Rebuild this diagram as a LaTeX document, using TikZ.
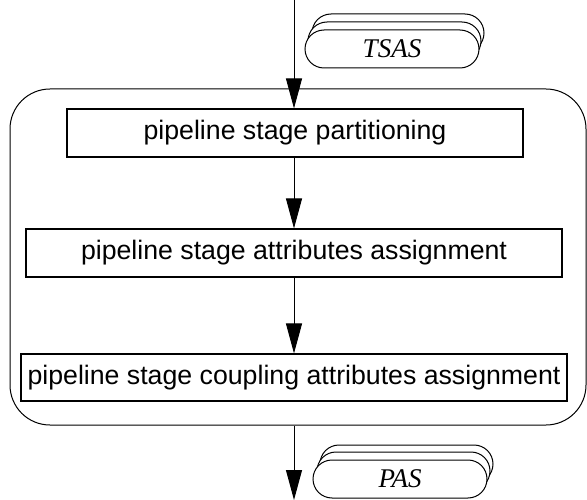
\documentclass[tikz,border=0pt]{standalone}
\usepackage{fontspec}
\setmainfont{Liberation Serif}
\setsansfont{Liberation Sans}
\usetikzlibrary{arrows.meta}
\tikzset{
  stagebox/.style={draw, line width=1.1pt, inner sep=0pt, font=\sffamily\fontsize{26.7}{30}\selectfont},
  flow/.style={line width=1pt, -{Triangle[width=16pt,length=30pt]}},
  store/.style={draw, line width=1pt, fill=white, rounded corners=19pt},
  storelabel/.style={font=\itshape\fontsize{27}{30}\selectfont}
}
\begin{document}
\begin{tikzpicture}[x=1pt,y=-1pt]
\useasboundingbox (0,0) rectangle (587,500);

% enclosing block
\node[draw, line width=1pt, rounded corners=40pt, minimum width=576pt, minimum height=336pt, inner sep=0pt]
  (outer) at (298,257) {};

% processing steps
\node[stagebox, minimum width=456pt, minimum height=48pt] (s1) at (295,133) {pipeline stage partitioning};
\node[stagebox, minimum width=536pt, minimum height=48pt] (s2) at (294,253) {pipeline stage attributes assignment};
\node[stagebox, minimum width=546pt, minimum height=47pt] (s3) at (294,377.5) {pipeline stage coupling attributes assignment};

% input and output stores
\draw[store] (312,14) rectangle (484,52);
\draw[store] (308,22) rectangle (481,60);
\draw[store] (305,30) rectangle (479,68);
\node[storelabel] (tsas) at (392,49) {TSAS};

\draw[store] (320,445) rectangle (493,483);
\draw[store] (317,452) rectangle (490,490);
\draw[store] (313,460) rectangle (487,498);
\node[storelabel] (pas) at (400,479) {PAS};

% flow
\coordinate (in) at (294,0);
\coordinate (out) at (294,500);
\draw[flow] (in) -- (in |- s1.north);
\draw[flow] (s1.south -| in) -- (s2.north -| in);
\draw[flow] (s2.south -| in) -- (s3.north -| in);
\draw[flow] (outer.south -| in) -- (out);
\end{tikzpicture}
\end{document}
